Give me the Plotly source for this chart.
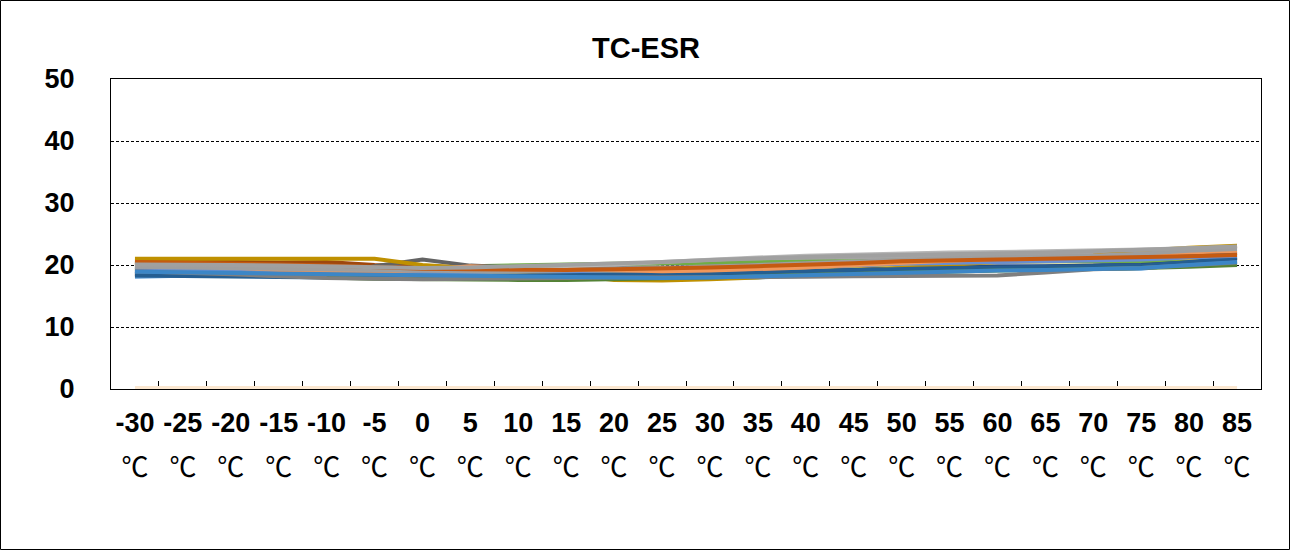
import plotly.graph_objects as go

temps = [-30, -25, -20, -15, -10, -5, 0, 5, 10, 15, 20, 25, 30, 35, 40, 45, 50, 55, 60, 65, 70, 75, 80, 85]
categories = [str(t) for t in temps]
num_labels = ["<b>%s</b>" % c for c in categories]
unit_labels = ["℃"] * len(categories)
y_ticks = [0, 10, 20, 30, 40, 50]
y_labels = ["<b>%d</b>" % v for v in y_ticks]

baseline = [0] * 24

s01 = [19.0, 19.0, 18.9, 18.8, 19.5, 18.9, 18.7, 18.6, 18.5, 18.4, 18.3, 18.3, 18.5, 18.7, 19.0, 19.3, 19.6, 19.8, 19.8, 19.7, 19.9, 20.3, 20.8, 21.2]
s02 = [18.5, 18.4, 18.4, 18.3, 18.3, 18.4, 18.6, 18.8, 19.0, 19.1, 19.2, 19.2, 19.3, 19.5, 19.8, 20.1, 20.4, 20.6, 20.7, 20.8, 21.0, 21.3, 21.6, 21.9]
s03 = [20.0, 19.9, 19.8, 19.6, 19.4, 19.2, 19.2, 19.3, 19.5, 19.7, 19.9, 20.2, 20.5, 20.8, 21.0, 21.2, 21.3, 21.4, 21.5, 21.6, 21.7, 21.8, 22.0, 22.2]
s04 = [19.3, 19.2, 19.1, 19.0, 18.9, 18.7, 18.6, 18.5, 18.6, 18.8, 19.0, 18.8, 18.9, 19.3, 19.6, 19.9, 20.1, 20.3, 20.5, 20.6, 20.6, 20.8, 21.0, 21.2]
s05 = [18.1, 18.3, 18.5, 18.6, 18.6, 18.5, 18.4, 18.3, 18.2, 18.1, 18.0, 17.9, 17.9, 18.0, 18.2, 18.5, 18.9, 19.1, 19.2, 19.3, 19.3, 19.4, 20.2, 21.0]
s06 = [20.4, 20.3, 20.2, 20.1, 19.9, 19.7, 19.5, 19.8, 20.0, 20.1, 20.2, 20.3, 20.4, 20.4, 20.5, 20.6, 20.7, 20.6, 20.6, 20.7, 20.7, 20.6, 20.4, 20.3]
s07 = [18.7, 18.6, 18.5, 18.4, 18.2, 18.0, 17.9, 17.9, 18.0, 18.1, 18.2, 18.3, 18.5, 18.7, 19.0, 19.2, 19.4, 19.6, 19.7, 19.8, 19.9, 20.0, 20.4, 20.7]
s08 = [20.7, 20.6, 20.5, 20.4, 20.5, 20.0, 19.8, 19.6, 19.4, 19.3, 19.2, 19.3, 19.4, 19.6, 19.9, 20.2, 20.5, 20.7, 20.9, 21.1, 21.2, 21.4, 21.6, 21.8]
s09 = [18.6, 18.5, 18.4, 18.3, 18.4, 19.8, 20.9, 19.9, 19.6, 19.5, 19.4, 19.5, 19.7, 19.9, 20.2, 20.5, 20.7, 20.9, 21.0, 21.2, 21.3, 21.5, 21.7, 21.9]
s10 = [21.0, 21.0, 20.9, 20.9, 21.0, 21.0, 20.0, 19.5, 19.0, 18.5, 17.6, 17.5, 17.7, 18.0, 18.5, 19.0, 19.5, 20.0, 20.5, 21.0, 21.5, 22.3, 22.8, 23.1]
s11 = [18.3, 18.2, 18.2, 18.1, 18.0, 18.0, 18.1, 18.2, 18.3, 18.3, 18.4, 18.5, 18.6, 18.8, 19.0, 19.2, 19.4, 19.5, 19.6, 19.7, 19.8, 19.9, 20.5, 21.2]
s12 = [19.6, 19.3, 19.0, 18.5, 18.0, 17.8, 17.7, 17.6, 17.6, 17.6, 17.7, 17.8, 18.0, 18.2, 18.4, 18.6, 18.8, 19.0, 19.1, 19.2, 19.3, 19.5, 19.7, 20.0]
s13 = [19.4, 19.3, 19.2, 19.1, 19.0, 18.9, 18.9, 18.9, 18.9, 19.0, 19.1, 19.1, 19.2, 19.4, 19.6, 19.9, 20.2, 20.4, 20.5, 20.6, 20.7, 20.9, 21.2, 21.5]
s14 = [20.3, 20.0, 19.6, 19.2, 19.0, 18.9, 19.2, 19.8, 19.5, 19.3, 19.2, 19.0, 19.1, 19.3, 19.6, 20.0, 20.4, 20.7, 21.0, 21.2, 21.4, 21.7, 22.0, 22.3]
s15 = [19.8, 19.7, 19.6, 19.5, 19.4, 19.3, 19.3, 19.4, 19.6, 19.8, 20.1, 20.5, 20.9, 21.2, 21.5, 21.7, 21.9, 22.0, 22.1, 22.2, 22.3, 22.5, 22.7, 22.9]
s16 = [19.0, 18.8, 18.5, 18.2, 17.9, 17.8, 17.7, 17.8, 17.8, 17.9, 18.0, 18.0, 18.0, 18.1, 18.1, 18.2, 18.2, 18.3, 18.3, 18.8, 19.3, 19.5, 19.9, 20.4]
s17 = [19.7, 19.6, 19.5, 19.4, 19.3, 19.1, 19.0, 19.0, 19.0, 19.1, 19.3, 19.5, 19.7, 20.0, 20.3, 20.6, 20.9, 21.1, 21.3, 21.4, 21.5, 21.8, 22.3, 22.6]
s18 = [20.5, 20.4, 20.3, 20.1, 19.9, 19.6, 19.4, 19.3, 19.2, 19.2, 19.3, 19.4, 19.6, 19.8, 20.0, 20.3, 20.6, 20.8, 20.9, 21.0, 21.1, 21.2, 21.4, 21.6]
s19 = [18.9, 18.8, 18.7, 18.6, 18.5, 18.4, 18.3, 18.2, 18.1, 18.0, 17.9, 17.9, 18.0, 18.2, 18.4, 18.6, 18.8, 19.0, 19.1, 19.2, 19.3, 19.5, 20.0, 20.5]
s20 = [20.1, 20.1, 20.0, 19.9, 19.8, 19.6, 19.5, 19.6, 19.8, 20.0, 20.2, 20.5, 20.8, 21.1, 21.3, 21.5, 21.6, 21.7, 21.8, 22.0, 22.2, 22.4, 22.7, 23.0]

series = [s01, s02, s03, s04, s05, s06, s07, s08, s09, s10,
          s11, s12, s13, s14, s15, s16, s17, s18, s19, s20]
colors = ["#4472C4", "#ED7D31", "#A5A5A5", "#FFC000", "#5B9BD5", "#70AD47",
          "#264478", "#9E480E", "#636363", "#BF9000", "#255E91", "#548235",
          "#698ED0", "#F1975A", "#B7B7B7", "#7F7F7F", "#9E9E9E", "#C55A11",
          "#3C86C6", "#A0A0A0"]

fig = go.Figure()

fig.add_trace(go.Scatter(x=categories, y=baseline, mode="lines",
                         line=dict(color="#FBE7D0", width=6),
                         showlegend=False, hoverinfo="skip"))

for vals, col in zip(series, colors):
    fig.add_trace(go.Scatter(x=categories, y=vals, mode="lines",
                             line=dict(color=col, width=4),
                             showlegend=False))

# invisible trace to carry the unit-label axis
fig.add_trace(go.Scatter(x=categories, y=baseline, xaxis="x2", mode="lines",
                         line=dict(color="rgba(0,0,0,0)", width=0),
                         showlegend=False, hoverinfo="skip"))

fig.update_layout(
    width=1292, height=551,
    margin=dict(l=111, r=31, t=79, b=162, autoexpand=False),
    paper_bgcolor="white", plot_bgcolor="white",
    title=dict(text="<b>TC-ESR</b>", x=0.5, xref="container", xanchor="center",
               y=1 - 48 / 551, yref="container", yanchor="middle",
               font=dict(family="Liberation Sans, Arial", size=29, color="black")),
    xaxis=dict(type="category", categoryorder="array", categoryarray=categories,
               range=[-0.5, 23.5], tickmode="array", tickvals=categories,
               ticktext=num_labels, tickson="boundaries", ticks="inside",
               ticklen=8, tickcolor="black", tickwidth=1, tickangle=0,
               showline=True, linecolor="black", linewidth=1, mirror=True,
               showgrid=False, layer="below traces", ticklabelstandoff=10,
               automargin=False,
               tickfont=dict(family="Liberation Sans, Arial", size=27, color="black")),
    xaxis2=dict(type="category", categoryorder="array", categoryarray=categories,
                range=[-0.5, 23.5], overlaying="x", side="bottom", anchor="y",
                tickmode="array", tickvals=categories, ticktext=unit_labels,
                ticks="", showline=False, showgrid=False, ticklabelstandoff=60,
                tickangle=0, automargin=False,
                tickfont=dict(family="Noto Sans CJK SC, DejaVu Sans", size=27, color="black")),
    yaxis=dict(range=[0, 50], tickmode="array", tickvals=y_ticks, ticktext=y_labels,
               showgrid=True, gridcolor="black", gridwidth=1, griddash="3px,2px",
               showline=True, linecolor="black", linewidth=1, mirror=True,
               zeroline=False, ticks="", ticklabelstandoff=30, layer="below traces",
               automargin=False,
               tickfont=dict(family="Liberation Sans, Arial", size=27, color="black")),
    shapes=[dict(type="rect", xref="paper", yref="paper",
                 x0=(0.5 - 111) / 1150, x1=(1289.5 - 111) / 1150,
                 y0=(389 - 549.5) / 310, y1=(389 - 0.5) / 310,
                 line=dict(color="black", width=1), fillcolor="rgba(0,0,0,0)",
                 layer="below")],
)

fig.write_html("out.html", config={"displayModeBar": False},
               post_script="document.body.style.margin='0';document.body.style.padding='0';")
